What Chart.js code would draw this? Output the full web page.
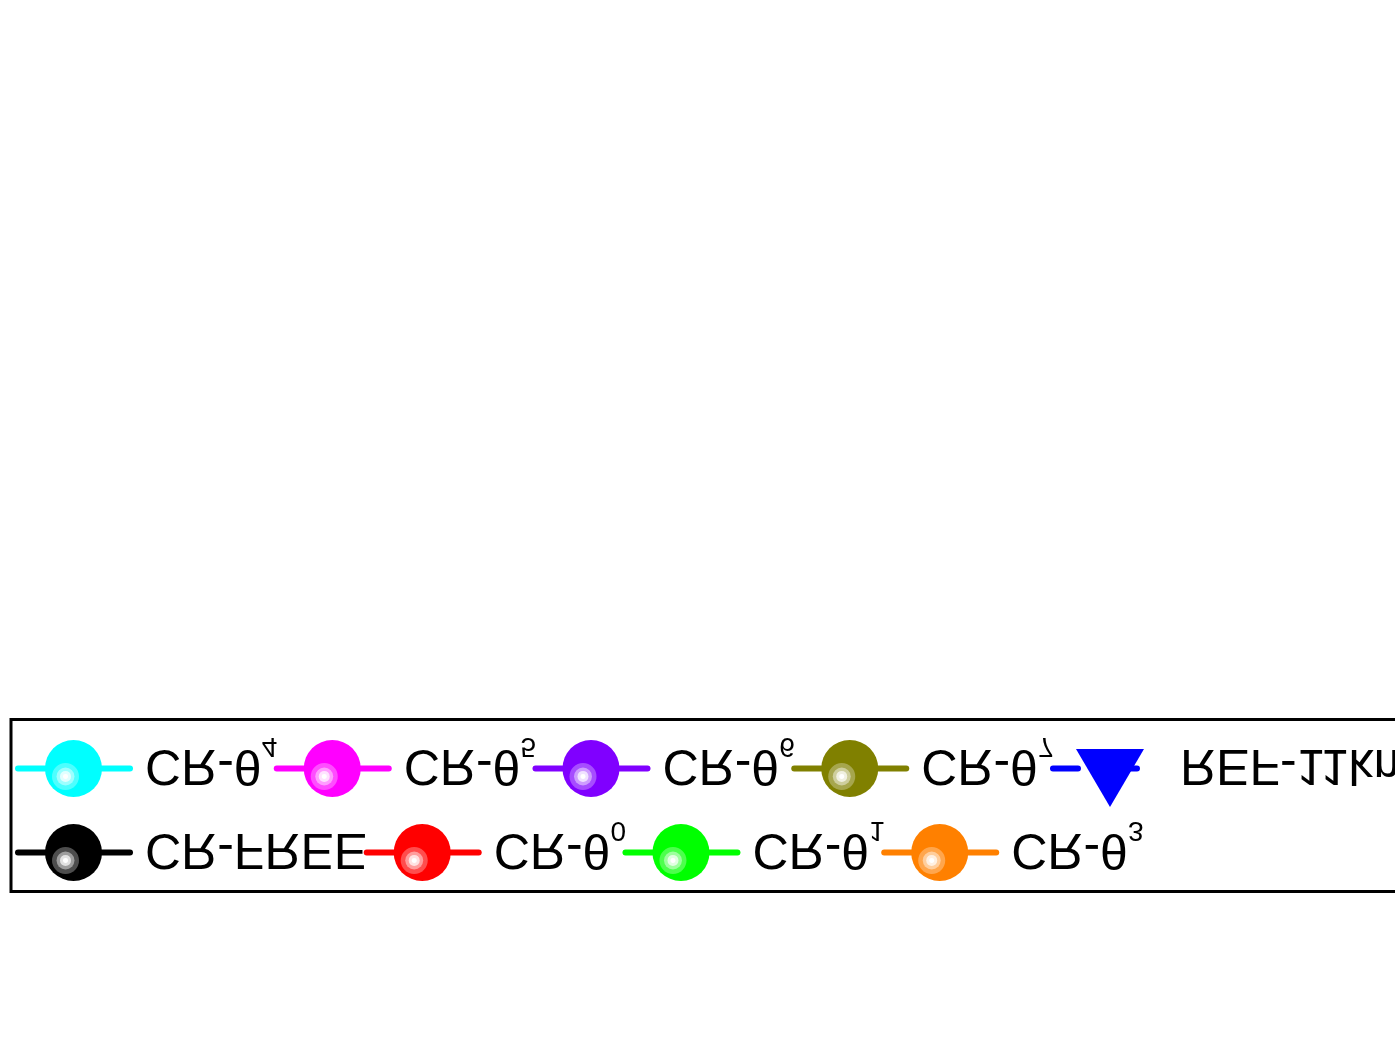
<!DOCTYPE html>
<html>
<head>
<meta charset="utf-8">
<script src="https://cdn.jsdelivr.net/npm/chart.js@4.4.0/dist/chart.umd.min.js"></script>
<style>
html,body{margin:0;padding:0;background:#fff;overflow:hidden}
#wrap{width:1395px;height:1048px;transform:scaleY(-1);transform-origin:50% 50%}
canvas{display:block}
</style>
</head>
<body>
<div id="wrap"><canvas id="c" width="1395" height="1048"></canvas></div>
<script>
// ---- data (no plotted values are visible in the reference, only the legend) ----
const categories = [];
const seriesNames = ['CR-FREE','CR-θ','CR-θ','CR-θ','CR-θ','CR-θ','CR-θ','CR-θ','REF-11km'];
const seriesSubscripts = ['','0','1','3','4','5','6','7',''];
const seriesColors = ['#000000','#ff0000','#00ff00','#ff8000','#00ffff','#ff00ff','#8000ff','#808000','#0000ff'];
const seriesMarkers = ['circle','circle','circle','circle','circle','circle','circle','circle','triangle'];
const seriesValues = [[],[],[],[],[],[],[],[],[]];
const legendRows = [[0,1,2,3],[4,5,6,7,8]];

const FONT = '"Liberation Sans", Arial, sans-serif';

const legendPlugin = {
  id: 'boxLegend',
  afterDraw(chart) {
    const ctx = chart.ctx;
    const ds = chart.data.datasets;
    const rowY = [195.5, 279.5];
    ctx.save();
    legendRows.forEach((row, ri) => {
      let x = 15;
      const y = rowY[ri];
      row.forEach(i => {
        const d = ds[i];
        const col = d.borderColor;
        // line
        ctx.strokeStyle = col;
        ctx.lineWidth = 6;
        ctx.lineCap = 'round';
        if (d.pointStyle === 'triangle') ctx.setLineDash([25, 34]); else ctx.setLineDash([]);
        ctx.beginPath();
        ctx.moveTo(x + 3, y);
        ctx.lineTo(x + 115, y);
        ctx.stroke();
        ctx.setLineDash([]);
        // marker
        const cx = x + 58.5;
        if (d.pointStyle === 'triangle') {
          ctx.fillStyle = col;
          ctx.beginPath();
          ctx.moveTo(x + 60, y - 38.5);
          ctx.lineTo(x + 94, y + 19.5);
          ctx.lineTo(x + 26, y + 19.5);
          ctx.closePath();
          ctx.fill();
        } else {
          ctx.fillStyle = col;
          ctx.beginPath();
          ctx.arc(cx, y, 28.5, 0, Math.PI * 2);
          ctx.fill();
          const hx = cx - 8, hy = y - 8;
          [[13.5, 0.3], [9, 0.45], [5.5, 0.7], [2.5, 1]].forEach(([r, a]) => {
            ctx.fillStyle = 'rgba(255,255,255,' + a + ')';
            ctx.beginPath();
            ctx.arc(hx, hy, r, 0, Math.PI * 2);
            ctx.fill();
          });
        }
        // text
        const tx = x + 130;
        const base = y + 18;
        ctx.fillStyle = '#000';
        ctx.textBaseline = 'alphabetic';
        ctx.textAlign = 'left';
        ctx.font = '50px ' + FONT;
        ctx.fillText(d.label, tx, base);
        let w = ctx.measureText(d.label).width;
        const sub = seriesSubscripts[i];
        if (sub) {
          ctx.font = '28px ' + FONT;
          ctx.fillText(sub, tx + w, base + 12);
          w += ctx.measureText(sub).width;
        }
        x = tx + w - 3.5;
      });
    });
    // legend frame
    ctx.strokeStyle = '#000';
    ctx.lineWidth = 3;
    ctx.strokeRect(11, 156.5, 1460, 172);
    ctx.restore();
  }
};

new Chart(document.getElementById('c'), {
  type: 'line',
  data: {
    labels: categories,
    datasets: seriesNames.map((n, i) => ({
      label: n,
      data: seriesValues[i],
      borderColor: seriesColors[i],
      backgroundColor: seriesColors[i],
      pointStyle: seriesMarkers[i],
      pointRadius: 28,
      borderWidth: 6
    }))
  },
  options: {
    responsive: false,
    animation: false,
    devicePixelRatio: 1,
    scales: { x: { display: false }, y: { display: false } },
    plugins: { legend: { display: false }, tooltip: { enabled: false } }
  },
  plugins: [legendPlugin]
});
</script>
</body>
</html>
